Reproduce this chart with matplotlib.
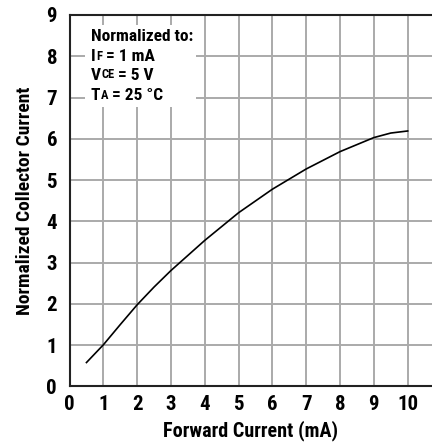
import matplotlib
matplotlib.use('Agg')
import matplotlib.pyplot as plt
from matplotlib.patches import Rectangle

plt.rcParams['font.family'] = ['Roboto Condensed', 'DejaVu Sans']
plt.rcParams['font.weight'] = 'bold'

# curve
forward_current = [0.5, 1, 1.5, 2, 2.5, 3, 4, 5, 6, 7, 8, 9, 9.5, 10]
collector_current = [0.58, 1.01, 1.50, 1.98, 2.41, 2.81, 3.54, 4.21, 4.78, 5.27, 5.69, 6.03, 6.14, 6.19]

x_ticks = [0, 1, 2, 3, 4, 5, 6, 7, 8, 9, 10]
y_ticks = [0, 1, 2, 3, 4, 5, 6, 7, 8, 9]

fig = plt.figure(figsize=(4.32, 4.45), dpi=100)
ax = fig.add_axes([0.161, 0.1315, 0.839, 0.8348])

ax.plot(forward_current, collector_current, color='black', lw=1.2, zorder=5)

ax.set_xlim(0, 10.72)
ax.set_ylim(0, 9)
ax.set_xticks(x_ticks)
ax.set_yticks(y_ticks)
ax.grid(True, color='#aaaaaa', lw=1.4, zorder=1)
ax.set_axisbelow(True)
ax.tick_params(length=0, labelsize=15)
ax.tick_params(axis='x', pad=6)
ax.tick_params(axis='y', pad=9)

for side in ['left', 'bottom', 'top']:
    ax.spines[side].set_linewidth(1.5)
    ax.spines[side].set_color('#222222')
ax.spines['right'].set_visible(False)

ax.set_xlabel('Forward Current (mA)', size=14.5, weight='bold', labelpad=5)
ax.set_ylabel('Normalized Collector Current', size=14, weight='bold', labelpad=9)

# white box behind the note
ax.add_patch(Rectangle((0.46, 6.78), 3.28, 1.97, facecolor='white', edgecolor='none', zorder=3))

fs = 12.5
small = 9
x0 = 0.63
ax.text(x0, 8.365, 'Normalized to:', size=fs, weight='bold', zorder=6, va='baseline')
lines = [(7.888, 'I', 'F', ' = 1 mA'), (7.433, 'V', 'CE', ' = 5 V'), (6.93, 'T', 'A', ' = 25 °C')]
for y, big, sub, rest in lines:
    t1 = ax.text(x0, y, big, size=fs, weight='bold', zorder=6, va='baseline')
    t2 = ax.annotate(sub, xy=(1, 0), xycoords=t1, xytext=(0.3, 1.0), textcoords='offset points',
                     size=small, weight='bold', va='bottom', zorder=6)
    ax.annotate(rest, xy=(1, 0), xycoords=t2, xytext=(0, -1.0), textcoords='offset points',
                size=fs, weight='bold', va='bottom', zorder=6)

fig.savefig('out.png', dpi=100)
